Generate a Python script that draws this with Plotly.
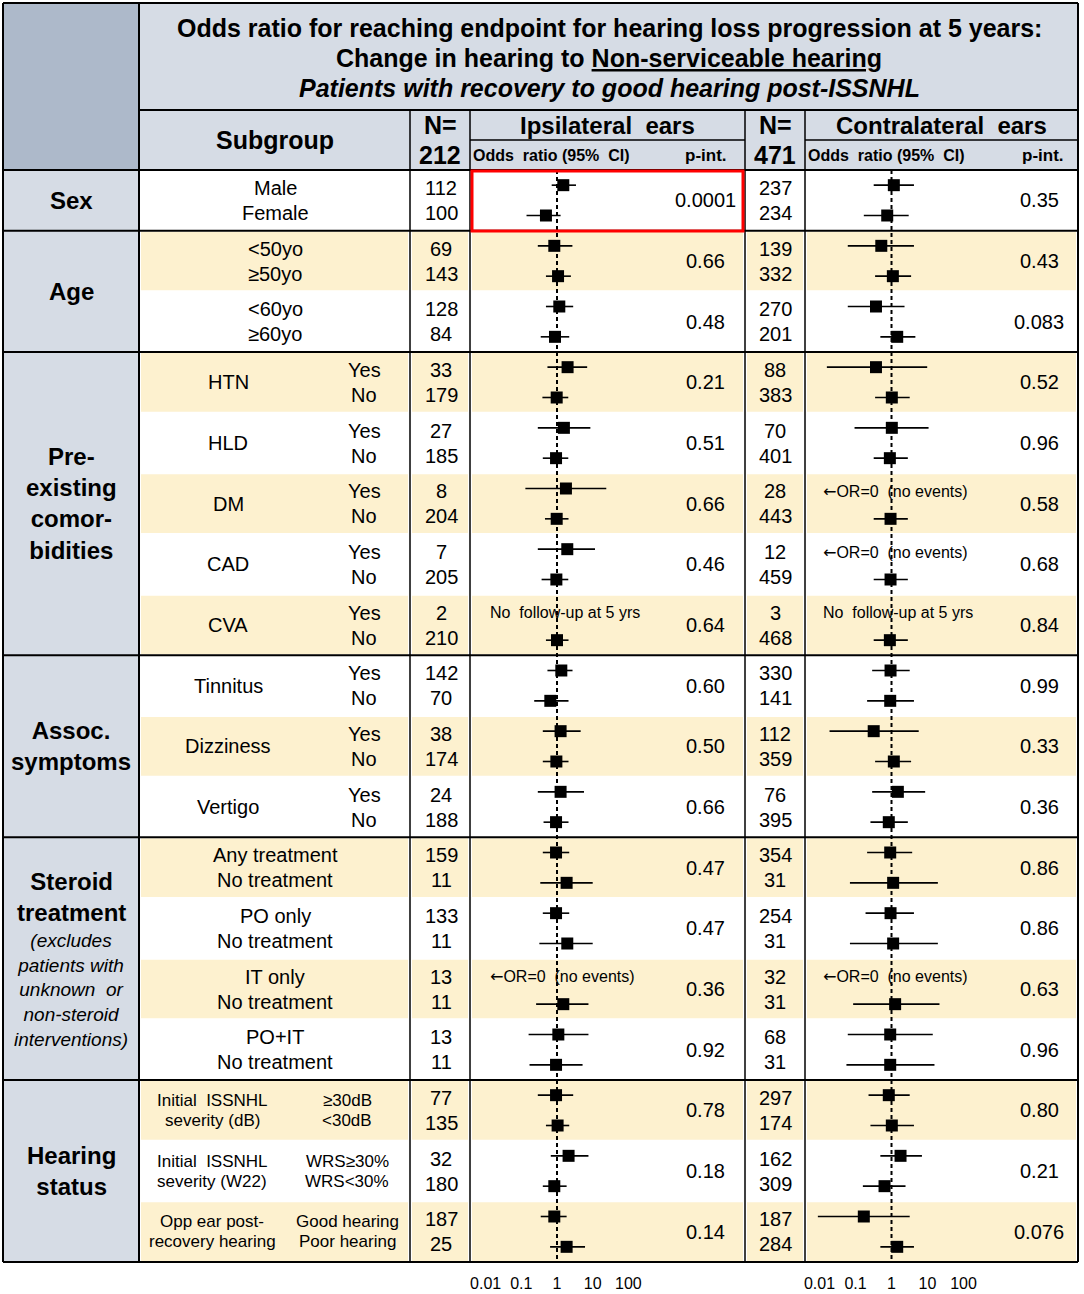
import plotly.graph_objects as go

# ---------------- data ----------------
categories = ["Sex", "Age", "Pre-<br>existing<br>comor-<br>bidities", "Assoc.<br>symptoms",
              "Steroid<br>treatment", "Hearing<br>status"]
category_pairs = [1, 2, 5, 3, 4, 3]
steroid_note = "(excludes<br>patients with<br>unknown  or<br>non-steroid<br>interventions)"

pair_names = ["", "", "", "HTN", "HLD", "DM", "CAD", "CVA", "Tinnitus", "Dizziness", "Vertigo",
              "", "", "", "",
              "Initial  ISSNHL<br>severity (dB)", "Initial  ISSNHL<br>severity (W22)",
              "Opp ear post-<br>recovery hearing"]
pair_style = ["center"] * 3 + ["yesno"] * 8 + ["center"] * 4 + ["small"] * 3

row_labels = ["Male", "Female",
              "&lt;50yo", "≥50yo", "&lt;60yo", "≥60yo",
              "Yes", "No", "Yes", "No", "Yes", "No", "Yes", "No", "Yes", "No",
              "Yes", "No", "Yes", "No", "Yes", "No",
              "Any treatment", "No treatment", "PO only", "No treatment",
              "IT only", "No treatment", "PO+IT", "No treatment",
              "≥30dB", "&lt;30dB", "WRS≥30%", "WRS&lt;30%", "Good hearing", "Poor hearing"]

n_ipsi = [112, 100, 69, 143, 128, 84, 33, 179, 27, 185, 8, 204, 7, 205, 2, 210,
          142, 70, 38, 174, 24, 188, 159, 11, 133, 11, 13, 11, 13, 11, 77, 135, 32, 180, 187, 25]
n_contra = [237, 234, 139, 332, 270, 201, 88, 383, 70, 401, 28, 443, 12, 459, 3, 468,
            330, 141, 112, 359, 76, 395, 354, 31, 254, 31, 32, 31, 68, 31, 297, 174, 162, 309, 187, 284]

p_ipsi = ["0.0001", "0.66", "0.48", "0.21", "0.51", "0.66", "0.46", "0.64", "0.60",
          "0.50", "0.66", "0.47", "0.47", "0.36", "0.92", "0.78", "0.18", "0.14"]
p_contra = ["0.35", "0.43", "0.083", "0.52", "0.96", "0.58", "0.68", "0.84", "0.99",
            "0.33", "0.36", "0.86", "0.86", "0.63", "0.96", "0.80", "0.21", "0.076"]

# odds ratios and 95% CI (None = not estimable)
or_ipsi = [1.5, 0.49, 0.84, 1.07, 1.16, 0.88, 1.98, 0.98, 1.56, 0.94, 1.78, 0.98,
           1.94, 0.96, None, 1.0, 1.32, 0.65, 1.26, 0.96, 1.26, 0.94,
           0.94, 1.86, 0.94, 1.94, None, 1.5, 1.09, 0.94, 0.94, 1.04, 2.11, 0.84, 0.84, 1.86]
lo_ipsi = [0.71, 0.14, 0.29, 0.49, 0.49, 0.35, 0.54, 0.39, 0.29, 0.40, 0.13, 0.46,
           0.29, 0.37, None, 0.49, 0.54, 0.23, 0.40, 0.40, 0.29, 0.42,
           0.40, 0.34, 0.40, 0.32, None, 0.26, 0.16, 0.17, 0.29, 0.49, 0.67, 0.40, 0.35, 0.64]
hi_ipsi = [3.4, 1.26, 2.7, 2.45, 2.84, 2.2, 7.0, 2.07, 8.6, 2.07, 24, 2.1,
           11.6, 2.07, None, 2.1, 2.72, 2.1, 4.6, 2.1, 5.7, 2.1,
           2.2, 10, 2.2, 10, None, 7.6, 7.6, 5.2, 2.84, 2.2, 7.6, 1.86, 1.86, 6.1]

or_contra = [1.16, 0.76, 0.52, 1.09, 0.37, 1.44, 0.37, 1.02, 1.02, 0.90, None, 0.94,
             None, 0.94, None, 0.90, 0.94, 0.92, 0.32, 1.16, 1.5, 0.84,
             0.92, 1.11, 0.94, 1.11, None, 1.26, 0.92, 0.92, 0.84, 1.02, 1.78, 0.64, 0.17, 1.44]
lo_contra = [0.32, 0.17, 0.061, 0.35, 0.061, 0.49, 0.016, 0.35, 0.094, 0.32, None, 0.32,
             None, 0.32, None, 0.32, 0.29, 0.21, 0.019, 0.35, 0.29, 0.26,
             0.21, 0.070, 0.19, 0.070, None, 0.086, 0.061, 0.056, 0.23, 0.26, 0.49, 0.16, 0.009, 0.49]
hi_contra = [4.2, 3.0, 4.2, 3.5, 2.3, 4.6, 9.8, 3.2, 10.7, 2.84, None, 2.84,
             None, 2.84, None, 2.84, 3.2, 4.2, 5.7, 3.5, 8.6, 2.84,
             3.75, 19.4, 4.2, 19.4, None, 21.5, 14, 15.6, 3.2, 4.2, 7.0, 2.45, 3.2, 4.2]

ARROW = "<span style='font-family:DejaVu Sans'>←</span>"
notes_ipsi = {14: "No  follow-up at 5 yrs", 26: ARROW + "OR=0  (no events)"}
notes_contra = {10: ARROW + "OR=0  (no events)", 12: ARROW + "OR=0  (no events)",
                14: "No  follow-up at 5 yrs", 26: ARROW + "OR=0  (no events)"}

tick_vals = [0.01, 0.1, 1, 10, 100]
tick_text = ["0.01", "0.1", "1", "10", "100"]

# ---------------- layout constants ----------------
W, H = 1084, 1294
FONT = "Liberation Sans, Arial, sans-serif"
TOP, BOTTOM = 170, 1262
RH = (BOTTOM - TOP) / len(row_labels)
X_L, X_CAT, X_N1, X_P1, X_N2, X_P2, X_R = 3, 139, 410, 470, 745, 805, 1078
CREAM = "#fdf1cf"
BLUE = "#d6dce5"
DARK = "#adb9ca"


def row_y(i):
    return TOP + (i + 0.5) * RH


def text_y(i, off=12.5):
    # text rows sit a little closer to their pair centre than the markers do
    yc = TOP + (2 * (i // 2) + 1) * RH
    return yc - off if i % 2 == 0 else yc + off


annotations = []


def txt(x, y, text, size=20, bold=False, italic=False, anchor="center"):
    if bold:
        text = "<b>" + text + "</b>"
    if italic:
        text = "<i>" + text + "</i>"
    annotations.append(dict(x=x, y=y, xref="x", yref="y", text=text, showarrow=False,
                            xanchor=anchor, yanchor="middle", align="center",
                            font=dict(family=FONT, size=size, color="black")))


shapes = []


def rect(x0, y0, x1, y1, fill, layer="below"):
    shapes.append(dict(type="rect", xref="x", yref="y", x0=x0, y0=y0, x1=x1, y1=y1,
                       fillcolor=fill, line=dict(width=0), layer=layer))


def line(x0, y0, x1, y1, width=2, color="black"):
    shapes.append(dict(type="line", xref="x", yref="y", x0=x0, y0=y0, x1=x1, y1=y1,
                       line=dict(color=color, width=width), layer="above"))


# backgrounds
rect(X_L, X_L, X_CAT, TOP, DARK)
rect(X_CAT, X_L, X_R, TOP, BLUE)
cols = [(X_CAT, X_N1), (X_N1, X_P1), (X_P1, X_N2), (X_N2, X_P2), (X_P2, X_R)]
for p in range(len(pair_names)):
    if p % 2 == 1:
        y0, y1 = TOP + 2 * p * RH, TOP + 2 * (p + 1) * RH
        for a, b in cols:
            rect(a + 2, y0 + 1, b - 2, y1 - 1, CREAM)

# category column
start = 0
for cat, n in zip(categories, category_pairs):
    y0, y1 = TOP + 2 * start * RH, TOP + 2 * (start + n) * RH
    rect(X_L, y0, X_CAT, y1, BLUE)
    yc = (y0 + y1) / 2
    if cat.startswith("Steroid"):
        txt(71, yc - 62, cat, size=24, bold=True)
        txt(71, yc + 31, steroid_note, size=19, italic=True)
    else:
        txt(71, yc, cat, size=24, bold=True)
    line(X_L, y1, X_R, y1)
    start += n

# grid lines
line(X_L, X_L, X_R, X_L)
line(X_L, X_L, X_L, BOTTOM)
line(X_R, X_L, X_R, BOTTOM)
line(X_CAT, X_L, X_CAT, BOTTOM)
line(X_CAT, 110, X_R, 110)
line(X_L, TOP, X_R, TOP)
for xv in [X_N1, X_P1, X_N2, X_P2]:
    line(xv, 110, xv, BOTTOM, width=1.5)
line(X_P1, 140, X_N2, 140, width=1.5)
line(X_P2, 140, X_R, 140, width=1.5)
# highlight box
shapes.append(dict(type="rect", xref="x", yref="y", x0=472, y0=171, x1=743, y1=231,
                   line=dict(color="#ff0000", width=3), layer="above"))

# titles
txt(609, 28, "Odds ratio for reaching endpoint for hearing loss progression at 5 years:", size=25, bold=True)
txt(609, 58, "Change in hearing to <u>Non-serviceable hearing</u>", size=25, bold=True)
txt(609, 88, "<b><i>Patients with recovery to good hearing post-ISSNHL</i></b>", size=25)
txt(275, 140, "Subgroup", size=25, bold=True)
txt(440, 125, "N=", size=25, bold=True)
txt(440, 155, "212", size=25, bold=True)
txt(775, 125, "N=", size=25, bold=True)
txt(775, 155, "471", size=25, bold=True)
txt(607, 125, "Ipsilateral  ears", size=24, bold=True)
txt(941, 125, "Contralateral  ears", size=24, bold=True)
txt(551, 155, "Odds  ratio (95%  CI)", size=16, bold=True)
txt(706, 155, "p-int.", size=17, bold=True)
txt(886, 155, "Odds  ratio (95%  CI)", size=16, bold=True)
txt(1043, 155, "p-int.", size=17, bold=True)

# subgroup labels, N, p values
for p, name in enumerate(pair_names):
    yc = TOP + (2 * p + 1) * RH
    style = pair_style[p]
    if style == "yesno":
        txt(228, yc, name, size=20)
    elif style == "small":
        for k, part in enumerate(name.split("<br>")):
            txt(212, yc - 10 + 20 * k, part, size=17)
    txt(705, yc, p_ipsi[p], size=20)
    txt(1039, yc, p_contra[p], size=20)

for i, lab in enumerate(row_labels):
    style = pair_style[i // 2]
    y = text_y(i)
    if style == "center":
        txt(275, y, lab, size=20)
    elif style == "yesno":
        txt(364, y, lab, size=20)
    else:
        txt(347, text_y(i, 10), lab, size=17)
    txt(441, y, str(n_ipsi[i]), size=20)
    txt(775, y, str(n_contra[i]), size=20)

for i, note in notes_ipsi.items():
    txt(488, row_y(i) + 3, note, size=16, anchor="left")
for i, note in notes_contra.items():
    txt(821, row_y(i) + 3, note, size=16, anchor="left")

# ---------------- forest traces ----------------
fig = go.Figure()
for xa, ors, los, his in [("x2", or_ipsi, lo_ipsi, hi_ipsi), ("x3", or_contra, lo_contra, hi_contra)]:
    fig.add_trace(go.Scatter(x=[1, 1], y=[TOP, BOTTOM], mode="lines",
                             line=dict(color="black", width=2, dash="4px,3px"),
                             xaxis=xa, yaxis="y", hoverinfo="skip"))
    idx = [i for i, v in enumerate(ors) if v is not None]
    fig.add_trace(go.Scatter(
        x=[ors[i] for i in idx], y=[row_y(i) for i in idx], mode="markers",
        marker=dict(symbol="square", size=12, color="black"),
        error_x=dict(type="data", symmetric=False,
                     array=[his[i] - ors[i] for i in idx],
                     arrayminus=[ors[i] - los[i] for i in idx],
                     thickness=1.6, width=0, color="black"),
        xaxis=xa, yaxis="y"))

axis_common = dict(type="log", anchor="free", position=22 / H, tickvals=tick_vals, ticktext=tick_text,
                   showgrid=False, zeroline=False, showline=False, ticks="", fixedrange=True,
                   tickfont=dict(family=FONT, size=16, color="black"))

fig.update_layout(
    width=W, height=H, autosize=False,
    margin=dict(l=0, r=0, t=0, b=0),
    paper_bgcolor="white", plot_bgcolor="rgba(0,0,0,0)",
    showlegend=False,
    xaxis=dict(range=[0, W], visible=False, fixedrange=True),
    yaxis=dict(range=[H, 0], visible=False, fixedrange=True),
    xaxis2=dict(domain=[X_P1 / W, X_N2 / W], range=[-2.437, 5.266], **axis_common),
    xaxis3=dict(domain=[X_P2 / W, X_R / W], range=[-2.403, 5.18], **axis_common),
    shapes=shapes,
    annotations=annotations,
)

fig.write_html("out.html", config={"displayModeBar": False},
               post_script="document.body.style.margin='0';document.body.style.overflow='hidden';")
